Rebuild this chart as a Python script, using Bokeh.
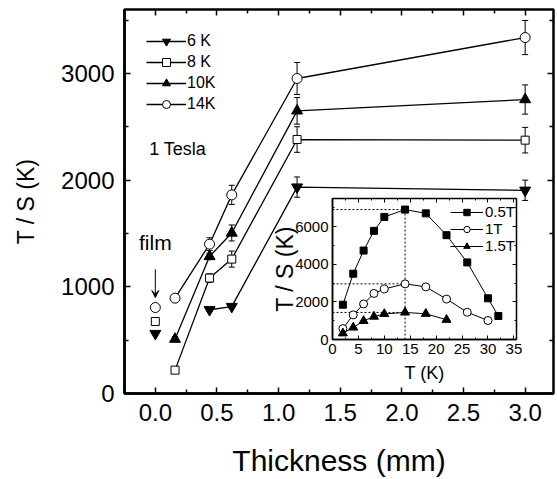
from bokeh.plotting import figure
from bokeh.models import (GridBox, Legend, LegendItem, Label, Arrow, VeeHead, Whisker, TeeHead,
                          ColumnDataSource, LinearAxis, FixedTicker, Range1d, NumeralTickFormatter,
                          CustomLabelingPolicy)
from bokeh.embed import file_html
from bokeh.resources import INLINE

FONT = "Liberation Sans"

# ---------------- main data (1 Tesla) ----------------
thickness = [0.16, 0.44, 0.62, 1.15, 3.0]
thickness_6K = [0.44, 0.62, 1.15, 3.0]
ts_6K = [785, 815, 1935, 1905]
err_6K = [15, 15, 95, 95]
ts_8K = [219, 1082, 1260, 2381, 2375]
err_8K = [25, 40, 75, 120, 120]
ts_10K = [510, 1285, 1505, 2650, 2756]
err_10K = [25, 30, 75, 125, 137]
ts_14K = [894, 1400, 1862, 2953, 3337]
err_14K = [20, 60, 90, 150, 160]
film_thickness = 0.0
film_6K = 562
film_8K = 675
film_14K = 806

x_ticks = [0.0, 0.5, 1.0, 1.5, 2.0, 2.5, 3.0]
x_minor = [-0.25, 0.25, 0.75, 1.25, 1.75, 2.25, 2.75, 3.25]
y_ticks = [0, 1000, 2000, 3000]
y_minor = [500, 1500, 2500, 3500]

# ---------------- inset data ----------------
T_05 = [2, 4, 6, 8, 10, 14, 18, 22, 26, 30, 32]
ts_05 = [1850, 3500, 4730, 5780, 6520, 6910, 6710, 5550, 4100, 2190, 1250]
T_1 = [2, 4, 6, 8, 10, 14, 18, 22, 26, 30]
ts_1 = [580, 1310, 1890, 2450, 2690, 2960, 2800, 2150, 1450, 1010]
T_15 = [2, 4, 6, 8, 10, 14, 18, 22]
ts_15 = [330, 640, 990, 1220, 1360, 1440, 1370, 1050]

ix_ticks = [0, 5, 10, 15, 20, 25, 30, 35]
ix_minor = [2.5, 7.5, 12.5, 17.5, 22.5, 27.5, 32.5]
iy_ticks = [0, 2000, 4000, 6000]
iy_minor = [1000, 3000, 5000, 7000]

NO_LABELS = """
const keep = []
for (const i of indices) keep.push(i)
for (const i of keep) indices.unset(i)
return indices
"""


def style_axis(ax, fs, tin, tmin, lw):
    ax.major_tick_in = tin
    ax.major_tick_out = 0
    ax.minor_tick_in = tmin
    ax.minor_tick_out = 0
    ax.major_tick_line_width = lw
    ax.minor_tick_line_width = lw
    ax.major_tick_line_color = "black"
    ax.minor_tick_line_color = "black"
    ax.axis_line_color = "black"
    ax.major_label_text_font = FONT
    ax.major_label_text_font_size = fs
    ax.major_label_text_color = "black"
    ax.axis_label_text_font = FONT
    ax.axis_label_text_font_style = "normal"
    ax.axis_label_text_color = "black"


def mirror_axis(ticks, minor, tin, tmin, lw):
    ax = LinearAxis(ticker=FixedTicker(ticks=ticks, minor_ticks=minor))
    style_axis(ax, "0px", tin, tmin, lw)
    ax.axis_line_color = None
    ax.major_label_standoff = 0
    ax.major_label_policy = CustomLabelingPolicy(code=NO_LABELS)
    return ax


# ================= main figure =================
p = figure(width=549, height=471, x_range=Range1d(-0.25, 3.23), y_range=Range1d(0, 3600),
           output_backend="svg", toolbar_location=None,
           min_border_left=116, min_border_right=4, min_border_top=1, min_border_bottom=86,
           x_axis_label="Thickness (mm)", y_axis_label="T / S (K)")
p.xgrid.visible = False
p.ygrid.visible = False
p.outline_line_color = "black"
p.outline_line_width = 2.5
p.background_fill_color = "white"
p.border_fill_color = "white"

p.xaxis.ticker = FixedTicker(ticks=x_ticks, minor_ticks=x_minor)
p.xaxis.formatter = NumeralTickFormatter(format="0.0")
p.yaxis.ticker = FixedTicker(ticks=y_ticks, minor_ticks=y_minor)
for ax in (p.xaxis[0], p.yaxis[0]):
    style_axis(ax, "24px", 6, 4, 1.5)
    ax.axis_line_width = 2.5
    ax.major_label_standoff = 10
p.xaxis.axis_label_text_font_size = "30px"
p.xaxis.axis_label_standoff = 20
p.yaxis.axis_label_text_font_size = "23px"
p.yaxis.axis_label_standoff = 19

p.add_layout(mirror_axis(x_ticks, x_minor, 6, 4, 1.5), "above")
p.add_layout(mirror_axis(y_ticks, y_minor, 6, 4, 1.5), "right")

series = [
    ("6 K", thickness_6K, ts_6K, err_6K, "inverted_triangle", "black", 11),
    ("8 K", thickness, ts_8K, err_8K, "square", "white", 8),
    ("10K", thickness, ts_10K, err_10K, "triangle", "black", 11),
    ("14K", thickness, ts_14K, err_14K, "circle", "white", 10),
]
items = []
for name, xs, ys, es, marker, fill, size in series:
    src = ColumnDataSource(dict(x=xs, y=ys,
                                upper=[y + e for y, e in zip(ys, es)],
                                lower=[y - e for y, e in zip(ys, es)]))
    ln = p.line("x", "y", source=src, line_color="black", line_width=1.3)
    wh = Whisker(source=src, base="x", upper="upper", lower="lower", line_width=1,
                 line_color="black",
                 upper_head=TeeHead(size=6, line_width=1, line_color="black"),
                 lower_head=TeeHead(size=6, line_width=1, line_color="black"))
    p.add_layout(wh)
    sc = p.scatter("x", "y", source=src, marker=marker, size=size, fill_color=fill,
                   line_color="black", line_width=1)
    items.append(LegendItem(label=name, renderers=[ln, sc]))

# film points (not connected)
p.scatter([film_thickness], [film_14K], marker="circle", size=10, fill_color="white",
          line_color="black", line_width=1)
p.scatter([film_thickness], [film_8K], marker="square", size=8, fill_color="white",
          line_color="black", line_width=1)
p.scatter([film_thickness], [film_6K], marker="inverted_triangle", size=11, fill_color="black",
          line_color="black", line_width=1)

leg = Legend(items=items, location="top_left", margin=22, padding=0, spacing=1,
             glyph_width=40, glyph_height=20, label_height=20, label_standoff=1,
             label_text_font=FONT, label_text_font_size="16px", label_text_color="black",
             background_fill_alpha=0, border_line_color=None)
p.add_layout(leg)

p.add_layout(Label(x=-0.05, y=2200, text="1 Tesla", text_font=FONT, text_font_size="18px",
                   text_color="black"))
p.add_layout(Label(x=film_thickness, y=1310, text="film", text_align="center", text_font=FONT,
                   text_font_size="21px", text_color="black"))
p.add_layout(Arrow(end=VeeHead(size=7, fill_color="black", line_color="black", line_width=1),
                   x_start=film_thickness, y_start=1165, x_end=film_thickness, y_end=900,
                   line_width=1, line_color="black"))

# ================= inset figure =================
q = figure(width=258, height=196, x_range=Range1d(0, 35.5), y_range=Range1d(0, 7500),
           output_backend="svg", toolbar_location=None,
           min_border_left=68, min_border_right=6, min_border_top=3, min_border_bottom=52,
           x_axis_label="T (K)", y_axis_label="T / S (K)")
q.xgrid.visible = False
q.ygrid.visible = False
q.outline_line_color = "black"
q.outline_line_width = 1.5
q.background_fill_color = "white"
q.border_fill_color = None
q.border_fill_alpha = 0

q.xaxis.ticker = FixedTicker(ticks=ix_ticks, minor_ticks=ix_minor)
q.yaxis.ticker = FixedTicker(ticks=iy_ticks, minor_ticks=iy_minor)
for ax in (q.xaxis[0], q.yaxis[0]):
    style_axis(ax, "15px", 4, 2, 1)
    ax.axis_line_width = 1.5
    ax.major_label_standoff = 4
q.xaxis.axis_label_text_font_size = "18px"
q.xaxis.axis_label_standoff = 6
q.yaxis.axis_label_text_font_size = "23px"
q.yaxis.axis_label_standoff = -6

q.add_layout(mirror_axis(ix_ticks, ix_minor, 4, 2, 1), "above")
q.add_layout(mirror_axis(iy_ticks, iy_minor, 4, 2, 1), "right")

# dashed guides at the peak of each curve
peak_T = T_05[ts_05.index(max(ts_05))]
peaks = [max(ts_05), max(ts_1), max(ts_15)]
q.segment(x0=[0] * 3, y0=peaks, x1=[peak_T] * 3, y1=peaks, line_dash="2 2",
          line_color="black", line_width=1)
q.segment(x0=[peak_T], y0=[0], x1=[peak_T], y1=[max(ts_05)], line_dash="2 2",
          line_color="black", line_width=1)

iseries = [
    ("0.5T", T_05, ts_05, "square", "black", 7),
    ("1T", T_1, ts_1, "circle", "white", 8),
    ("1.5T", T_15, ts_15, "triangle", "black", 9),
]
iitems = []
for name, xs, ys, marker, fill, size in iseries:
    ln = q.line(xs, ys, line_color="black", line_width=1)
    sc = q.scatter(xs, ys, marker=marker, size=size, fill_color=fill, line_color="black",
                   line_width=1)
    iitems.append(LegendItem(label=name, renderers=[ln, sc]))

ileg = Legend(items=iitems, location=(118, 85), margin=0, padding=0, spacing=0,
              glyph_width=33, glyph_height=16, label_height=16, label_standoff=2,
              label_text_font=FONT, label_text_font_size="15px", label_text_color="black",
              background_fill_alpha=0, border_line_color=None)
q.add_layout(ileg)

layout = GridBox(children=[(p, 0, 0, 3, 3), (q, 1, 1, 1, 1)],
                 rows=["187px", "196px", "88px"], cols=["256px", "258px", "35px"], spacing=0,
                 margin=(8, 0, 0, 8))

open("out.html", "w").write(file_html(layout, INLINE))
